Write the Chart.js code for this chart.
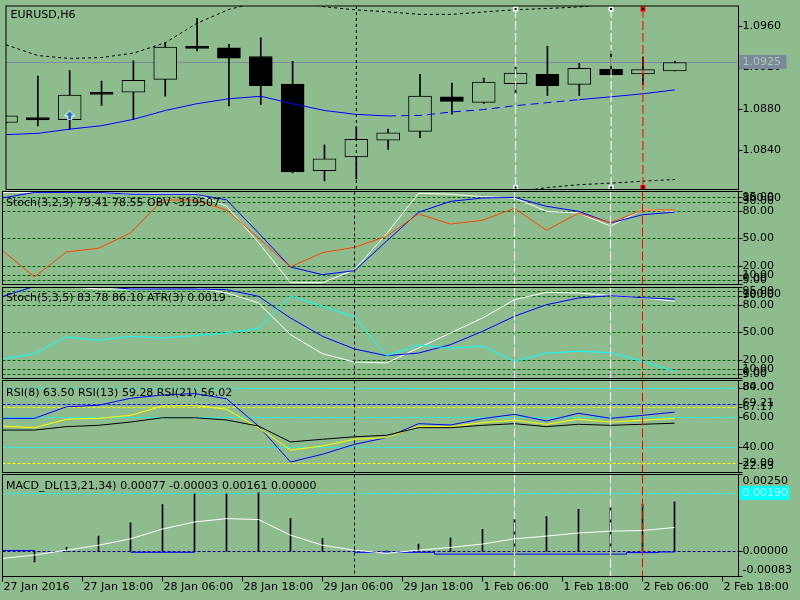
<!DOCTYPE html>
<html><head><meta charset="utf-8">
<script src="https://cdn.jsdelivr.net/npm/chart.js@4.4.0/dist/chart.umd.min.js"></script>
<style>
html,body{margin:0;padding:0;background:#8FBC8F;width:800px;height:600px;overflow:hidden}
canvas{position:absolute;left:0;top:0}
</style></head><body>
<canvas id="c1" width="800" height="600"></canvas>
<canvas id="c2" width="800" height="600"></canvas>
<canvas id="c3" width="800" height="600"></canvas>
<canvas id="c4" width="800" height="600"></canvas>
<canvas id="c5" width="800" height="600"></canvas>
<script>
// ---------------- DATA ----------------
const bars   = [0,1,2,3,4,5,6,7,8,9,10,11,12,13,14,15,16,17,18,19,20,21];
const opens  = [1.08667,1.08715,1.08695,1.08960,1.08962,1.09086,1.09406,1.09393,1.09308,1.09041,1.08200,1.08333,1.08495,1.08581,1.08917,1.08863,1.09044,1.09136,1.09038,1.09184,1.09139,1.09168];
const highs  = [1.08740,1.09117,1.09171,1.09070,1.09267,1.09441,1.09679,1.09425,1.09489,1.09260,1.08451,1.08620,1.08603,1.09136,1.09050,1.09098,1.09203,1.09406,1.09241,1.09365,1.09305,1.09260];
const lows   = [1.08660,1.08634,1.08600,1.08834,1.08695,1.08924,1.09362,1.08829,1.08844,1.08177,1.08101,1.08120,1.08406,1.08520,1.08749,1.08853,1.08949,1.08930,1.08930,1.09130,1.09034,1.09168];
const closes = [1.08733,1.08693,1.08933,1.08940,1.09076,1.09400,1.09386,1.09291,1.09025,1.08187,1.08314,1.08505,1.08568,1.08924,1.08872,1.09060,1.09146,1.09025,1.09193,1.09130,1.09181,1.09250];
const maLine    = [1.08550,1.08562,1.08603,1.08636,1.08698,1.08784,1.08850,1.08898,1.08922,1.08850,1.08784,1.08746,1.08731,1.08736,1.08770,1.08793,1.08831,1.08860,1.08889,1.08917,1.08946,1.08984];
const upperBand = [1.09422,1.09317,1.09289,1.09298,1.09341,1.09441,1.09631,1.09765,1.09841,1.09850,1.09790,1.09760,1.09741,1.09717,1.09717,1.09740,1.09762,1.09774,1.09789,1.09820,1.09830,1.09840];
const lowerBand = [1.07680,1.07810,1.07900,1.07950,1.07970,1.07930,1.07870,1.07900,1.07900,1.07850,1.07760,1.07730,1.07720,1.07750,1.07820,1.07900,1.07994,1.08036,1.08064,1.08079,1.08098,1.08114];
const arrowBars   = [2];
const arrowPrices = [1.08736];
const priceTicks  = [1.0840,1.0880,1.0920,1.0960];
const currentPrice = 1.0925;

const stoch1Main   = [100,100,100,100,98,99,99,85,45.5,2,2,16,55,99,98,95.4,94,79.5,77.7,63.4,81.3,79.41];
const stoch1Signal = [94,100,100,100,98,98,98,92,56,19,10.7,15,47,78.4,90.3,93.9,94.6,84.9,79.5,66.8,75.8,78.55];
const obvScaled    = [36.8,8.2,35.3,39.4,56,91.7,91.7,80.9,50.5,19.1,34.6,40.4,52.4,76.6,65.7,69.7,82.7,58.9,77.5,67.1,80.9,80.9];

const stoch2Main   = [100,100,100,97.2,97.2,98.5,98.5,93,82,47.5,26.8,17.7,16.7,33,49.3,65.6,85.5,93.6,92.8,89.9,87.7,83.78];
const stoch2Signal = [89,100,100,100,97.2,97.2,97.2,96.5,89.2,65.6,45.7,31.9,24.6,27.5,36.6,51.1,67.5,80.1,87.4,89.9,87.7,86.10];
const atrScaled    = [21,26.8,45,41.3,45.7,43.9,46.4,49.3,54.4,89.9,78.4,66.7,24.6,36.2,33,35.2,18.5,27.5,29.4,27.9,18.5,7.6];
const stochLevels  = [5,10,20,50,80,90,95];
const stochTicks   = [5,10,20,50,80,90,95];

const rsi8  = [59.3,59.3,67.1,68.1,72.8,75,76,72.5,54.1,29.9,35.1,41.8,46.3,55.7,54.8,59.1,62,57.5,62.7,59.3,61.3,63.50];
const rsi13 = [54.1,53,58.7,59.3,61.3,67.6,68.1,65.4,53,38,40.7,45.2,46.3,54.1,53.7,56.4,58,55.3,58.7,56.8,58,59.28];
const rsi21 = [51.4,51.4,53.7,54.6,56.8,59.7,59.7,58.2,54.1,43.4,45.2,46.9,47.9,53,53,54.6,55.7,53.7,55.3,54.6,55.3,56.02];
const rsiCyanLevels   = [40,60,80];
const rsiBlueLevels   = [69.21];
const rsiYellowLevels = [67.17,29];

const macdHist   = [0,-0.00035,0.00012,0.00049,0.00092,0.00152,0.00187,0.00187,0.00190,0.00106,0.00041,0.00005,0.00001,0.00023,0.00043,0.00071,0.00104,0.00113,0.00136,0.00142,0.00153,0.00161];
const macdSignal = [-0.00024,-0.00013,0.00003,0.00019,0.00040,0.00072,0.00095,0.00106,0.00103,0.00052,0.00019,0.00003,-0.00007,0.00003,0.00012,0.00023,0.00040,0.00049,0.00059,0.00065,0.00067,0.00077];
const macdLine   = [0.00002,0.00002,null,null,-0.00004,-0.00004,-0.00004,null,null,null,null,-0.00004,-0.00004,-0.00004,-0.0001,-0.0001,-0.0001,-0.0001,-0.0001,-0.0001,-0.00005,-0.00003];
const macdLevel  = 0.0019;
const macdTicks  = [0];

const timeTickPos    = [0,2.5,5,7.5,10,12.5,15,17.5,20,22.5];
const timeTickLabels = ["27 Jan 2016","27 Jan 18:00","28 Jan 06:00","28 Jan 18:00","29 Jan 06:00","29 Jan 18:00","1 Feb 06:00","1 Feb 18:00","2 Feb 06:00","2 Feb 18:00"];
const vlineBars = [11,16,19,20];

// ---------------- STYLE / LAYOUT ----------------
const BG = '#8FBC8F';
const FONT = '11px "DejaVu Sans"';
const vlineStyles = [
  {color:'#000000', dash:[3,3]},
  {color:'#ffffff', dash:[9,3]},
  {color:'#ffffff', dash:[9,3]},
  {color:'#ff0000', dash:[9,3]}
];
const xy = arr => arr.map((v,i)=>({x:bars[i], y:v}));

function arrowImage(){
  const c = document.createElement('canvas'); c.width = 11; c.height = 10;
  const g = c.getContext('2d');
  g.beginPath();
  g.moveTo(5.5,0.5); g.lineTo(10.5,5.5); g.lineTo(7.5,5.5); g.lineTo(7.5,9.5);
  g.lineTo(3.5,9.5); g.lineTo(3.5,5.5); g.lineTo(0.5,5.5); g.closePath();
  g.fillStyle = '#1f6cc0'; g.fill();
  g.strokeStyle = '#ffffff'; g.lineWidth = 1; g.stroke();
  return c;
}

function decor(cfg){
  return {
    id: 'decor',
    beforeDatasetsDraw(chart){
      const {ctx, chartArea:a, scales:{y}} = chart;
      ctx.save();
      (cfg.levels||[]).forEach(L=>{
        const py = Math.round(y.getPixelForValue(L.v)) + 0.5;
        ctx.strokeStyle = L.color; ctx.lineWidth = 1; ctx.setLineDash(L.dash||[]);
        ctx.beginPath(); ctx.moveTo(a.left, py); ctx.lineTo(a.right, py); ctx.stroke();
      });
      ctx.restore();
    },
    afterDatasetsDraw(chart){
      const {ctx, chartArea:a, scales:{x,y}} = chart;
      ctx.save();
      // vertical object lines
      vlineBars.forEach((b,k)=>{
        const st = vlineStyles[k];
        const px = x.getPixelForValue(b);
        let t = a.top, bt = a.bottom;
        if (cfg.markers && k>0){ t = a.top+3; bt = a.bottom-2; }
        ctx.strokeStyle = st.color; ctx.lineWidth = 1; ctx.setLineDash(st.dash);
        ctx.beginPath(); ctx.moveTo(px, t); ctx.lineTo(px, bt); ctx.stroke();
        if (cfg.markers && k>0){
          ctx.setLineDash([]);
          [t, bt].forEach(my=>{
            ctx.fillStyle = st.color; ctx.fillRect(px-2.5, my-2.5, 5, 5);
            ctx.fillStyle = '#000'; ctx.fillRect(px-1, my-1, 2, 2);
          });
        }
      });
      ctx.setLineDash([]);
      // pane frame
      ctx.strokeStyle = '#000'; ctx.lineWidth = 1;
      ctx.strokeRect(a.left, a.top, a.right-a.left, a.bottom-a.top);
      // title
      ctx.font = FONT; ctx.fillStyle = '#000'; ctx.textBaseline = 'middle'; ctx.textAlign = 'left';
      ctx.fillText(cfg.title, a.left + cfg.titleDx, a.top + cfg.titleDy);
      // right labels
      (cfg.labels||[]).forEach(L=>{
        let ty, tk;
        if (L.pos==='top'){ tk = a.top; ty = a.top + 6.5; }
        else if (L.pos==='bottom'){ tk = a.bottom; ty = a.bottom - 6.5; }
        else { tk = Math.round(y.getPixelForValue(L.v)) + 0.5; ty = y.getPixelForValue(L.v); }
        ctx.strokeStyle = '#000';
        ctx.beginPath(); ctx.moveTo(a.right, tk); ctx.lineTo(a.right+4, tk); ctx.stroke();
        ctx.fillStyle = '#000';
        ctx.fillText(L.text, a.right + 4, ty);
      });
      // value boxes
      (cfg.boxes||[]).forEach(B=>{
        const py = y.getPixelForValue(B.v);
        ctx.fillStyle = B.bg; ctx.fillRect(a.right+1, Math.round(py)-7, B.w, 14);
        ctx.fillStyle = B.fg; ctx.fillText(B.text, a.right + 4, py);
      });
      // time axis
      if (cfg.timeAxis){
        timeTickPos.forEach((p,i)=>{
          const px = x.getPixelForValue(p);
          ctx.strokeStyle = '#000';
          ctx.beginPath(); ctx.moveTo(px, a.bottom); ctx.lineTo(px, a.bottom+5); ctx.stroke();
          ctx.fillStyle = '#000';
          ctx.fillText(timeTickLabels[i], px + 1, a.bottom + 11);
        });
      }
      ctx.restore();
    }
  };
}

function pane(id, area, ymin, ymax, datasets, cfg){
  return new Chart(document.getElementById(id), {
    type: 'line',
    data: {datasets},
    options: {
      responsive: false, animation: false, events: [],
      layout: {padding: {left: 2.5, right: 61.5, top: area[0], bottom: 600 - area[1]}},
      plugins: {legend: {display: false}, tooltip: {enabled: false}},
      scales: {
        x: {type: 'linear', min: 0, max: 23, display: false, offset: false},
        y: {type: 'linear', min: ymin, max: ymax, display: false}
      },
      elements: {point: {radius: 0}, line: {borderWidth: 1, tension: 0}}
    },
    plugins: [decor(cfg)]
  });
}

const lineDs = (arr, color, extra) => Object.assign({type:'line', data: xy(arr), borderColor: color, borderWidth: 1, pointRadius: 0, fill: false, order: 0}, extra||{});

// ---------- Pane 1: price ----------
pane('c1', [2.5, 189.5], 1.080171, 1.097981, [
  {type:'bar', data: opens.map((o,i)=>({x:bars[i], y:[o, closes[i]]})),
   backgroundColor: closes.map((c,i)=> c>opens[i] ? BG : '#000'), borderColor:'#000', borderWidth:1,
   borderSkipped:false, barThickness:23, grouped:false, order:1},
  {type:'bar', data: lows.map((l,i)=>({x:bars[i], y:[l, highs[i]]})),
   backgroundColor:'#000', borderWidth:0, barThickness:1, grouped:false, order:2},
  lineDs(maLine, '#0000ff', {segment:{borderDash: c => (c.p0DataIndex>=12 && c.p0DataIndex<18) ? [8,5] : undefined}}),
  lineDs(upperBand, '#000', {borderDash:[3,3]}),
  lineDs(lowerBand, '#000', {borderDash:[3,3]}),
  {type:'line', data: arrowBars.map((b,i)=>({x:b, y:arrowPrices[i]})), showLine:false,
   pointStyle: arrowImage(), pointRadius: 5, order:-1}
], {
  title:'EURUSD,H6', titleDx:4.5, titleDy:9.5, markers:true,
  levels:[{v: currentPrice, color:'#7a8a9c', dash:[]}],
  labels: priceTicks.map(v=>({v, text:v.toFixed(4)})),
  boxes:[{v: currentPrice, text: currentPrice.toFixed(4), bg:'#7a8a9c', fg:'#a9cba6', w:47}]
});

// ---------- Pane 2: Stoch(3,2,3) + OBV ----------
pane('c2', [191.5, 284.5], 0, 101, [
  lineDs(obvScaled, '#ff4500'),
  lineDs(stoch1Signal, '#0000ff'),
  lineDs(stoch1Main, '#ffffff')
], {
  title:'Stoch(3,2,3) 79.41 78.55 OBV -319507', titleDx:3.5, titleDy:11.8,
  levels: stochLevels.map(v=>({v, color:'#006400', dash:[3,2]})),
  labels: [{pos:'top', text:'100.00'}].concat(stochTicks.map(v=>({v, text:v.toFixed(2)}))).concat([{pos:'bottom', text:'0.00'}])
});

// ---------- Pane 3: Stoch(5,3,5) + ATR ----------
pane('c3', [287.5, 378.5], -0.2, 98.8, [
  lineDs(atrScaled, '#00ffff'),
  lineDs(stoch2Signal, '#0000ff'),
  lineDs(stoch2Main, '#ffffff')
], {
  title:'Stoch(5,3,5) 83.78 86.10 ATR(3) 0.0019', titleDx:3.5, titleDy:10.2,
  levels: stochLevels.map(v=>({v, color:'#006400', dash:[3,2]})),
  labels: [{pos:'top', text:'100.00'}].concat(stochTicks.map(v=>({v, text:v.toFixed(2)}))).concat([{pos:'bottom', text:'0.00'}])
});

// ---------- Pane 4: RSI ----------
pane('c4', [380.5, 472.5], 22.83, 84.78, [
  lineDs(rsi21, '#000000'),
  lineDs(rsi13, '#ffff00'),
  lineDs(rsi8, '#0000ff')
], {
  title:'RSI(8) 63.50 RSI(13) 59.28 RSI(21) 56.02', titleDx:3.5, titleDy:12.2,
  levels: rsiCyanLevels.map(v=>({v, color:'#00ffff', dash:[3,2]}))
    .concat(rsiBlueLevels.map(v=>({v, color:'#0000ff', dash:[3,2]})))
    .concat(rsiYellowLevels.map(v=>({v, color:'#ffff00', dash:[3,2]}))),
  labels: [{pos:'top', text:'84.00'}]
    .concat(rsiCyanLevels.concat(rsiBlueLevels, rsiYellowLevels).map(v=>({v, text:v.toFixed(2)})))
    .concat([{pos:'bottom', text:'22.83'}])
});

// ---------- Pane 5: MACD ----------
pane('c5', [474.5, 576.5], -0.00083, 0.0025, [
  {type:'bar', data: xy(macdHist), backgroundColor:'#000', borderWidth:0, barThickness:1, grouped:false, order:2},
  lineDs(macdSignal, '#ffffff'),
  lineDs(macdLine, '#0000ff', {stepped:'middle', spanGaps:false})
], {
  title:'MACD_DL(13,21,34) 0.00077 -0.00003 0.00161 0.00000', titleDx:3.5, titleDy:11.2,
  timeAxis:true,
  levels:[{v: macdLevel, color:'#00ffff', dash:[3,2]}, {v: 0, color:'#000080', dash:[3,2]}],
  labels: [{pos:'top', text:'0.00250'}].concat(macdTicks.map(v=>({v, text:v.toFixed(5)}))).concat([{pos:'bottom', text:'-0.00083'}]),
  boxes:[{v: macdLevel, text: macdLevel.toFixed(5), bg:'#00ffff', fg:'#b8ffff', w:50}]
});
</script>
</body></html>
